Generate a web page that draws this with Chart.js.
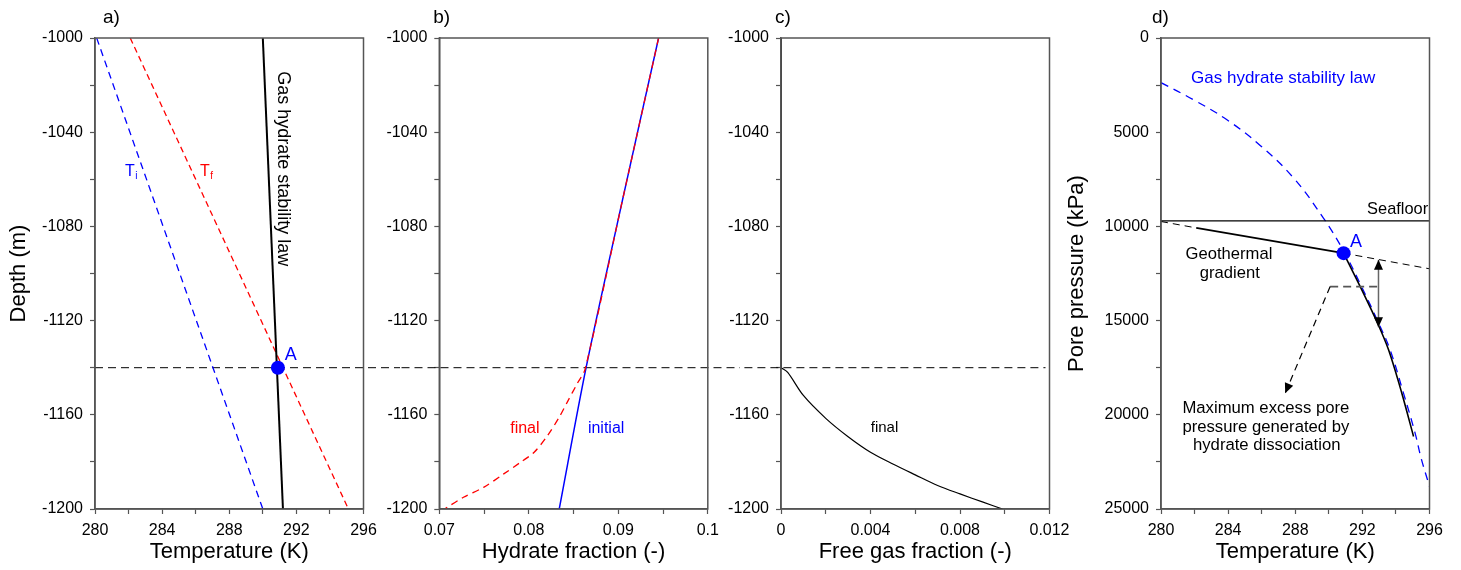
<!DOCTYPE html>
<html>
<head>
<meta charset="utf-8">
<script src="https://cdn.jsdelivr.net/npm/chart.js@4.4.1/dist/chart.umd.min.js"></script>
<style>
  body { margin:0; background:#fff; width:1461px; height:570px; overflow:hidden; position:relative; }
  canvas { position:absolute; top:0; }
</style>
</head>
<body>
<canvas id="chartA" width="400" height="570" style="left:0px"></canvas>
<canvas id="chartB" width="370" height="570" style="left:370px"></canvas>
<canvas id="chartC" width="370" height="570" style="left:712px"></canvas>
<canvas id="chartD" width="421" height="570" style="left:1040px"></canvas>
<script>
// ---- data ----
// a) temperature (K) vs depth (m)
const tiLine   = [[280.1, -1000], [290.0, -1200]];
const tfLine   = [[282.1, -1000], [295.1, -1200]];
const stabLine = [[290.0, -1000], [291.2, -1200]];
const pointA   = [[290.9, -1140]];
const dissocDepth = -1140;

// b) hydrate fraction vs depth
const hydInitial = [[0.0945, -1000], [0.0904, -1070], [0.0864, -1140], [0.0834, -1200]];
const hydFinal = [[0.0945, -1000], [0.0904, -1070], [0.0863, -1140.5], [0.0854, -1146.8], [0.0843, -1154.6],
  [0.0834, -1161], [0.0821, -1168.8], [0.0806, -1175.9], [0.0791, -1180.1], [0.0772, -1185.1],
  [0.0750, -1190.7], [0.0727, -1195], [0.0707, -1199.7]];

// c) free gas fraction vs depth
const gasAbove = [[0, -1000], [0, -1140]];
const gasFinal = [[0, -1140], [0.0003, -1142], [0.0010, -1151.8], [0.0020, -1161.5], [0.0030, -1169.3],
  [0.0040, -1175.9], [0.0050, -1180.9], [0.0060, -1185.5], [0.0070, -1190], [0.0080, -1193.6],
  [0.0090, -1197], [0.0099, -1200]];

// d) temperature (K) vs pore pressure (kPa)
const stabLaw = [[280, 2370], [281.94, 3280], [283.93, 4340], [285.91, 5700], [287.9, 7430], [289.68, 9560],
  [290.88, 11300], [291.9, 13100], [292.95, 15100], [293.65, 16550], [294.45, 18850], [295.15, 21000],
  [295.5, 22300], [296, 23800]];
const seafloor = [[280, 9710], [296, 9710]];
const geoDashLeft  = [[280, 9740], [282.1, 10080]];
const geoSolid     = [[282.1, 10080], [290.88, 11420]];
const geoDashRight = [[290.88, 11420], [296, 12250]];
const afterDiss = [[290.88, 11420], [291.08, 11775], [291.87, 13192], [292.86, 15050], [293.56, 16553],
  [294.35, 18852], [295.05, 21150]];
const pointAd = [[290.88, 11420]];
const excessArrow = [[292.96, 11775], [292.96, 15349]];
const leaderFlat = [[290.08, 13192], [292.96, 13192]];
const leaderArrow = [[290.08, 13192], [287.4, 18852]];

const FONT = "'Liberation Sans', Arial, Helvetica, sans-serif";
const BLUE = '#0000ff', RED = '#ff0000';

const pts = arr => arr.map(([x, y]) => ({x, y}));

function line(data, color, width, dash, tension) {
  return { data: pts(data), showLine: true, borderColor: color, borderWidth: width,
    borderDash: dash || [], pointRadius: 0, tension: tension || 0, fill: false };
}
function dot(data) {
  return { data: pts(data), showLine: false, pointRadius: 7, pointBackgroundColor: BLUE,
    pointBorderColor: BLUE, pointBorderWidth: 0 };
}

function axis(o) {
  return {
    type: 'linear', min: o.min, max: o.max, reverse: !!o.reverse,
    afterFit: s => { if (s.isHorizontal()) s.height = 61; else s.width = o.width; },
    border: { display: true, color: '#555', width: 1.5 },
    grid: { display: true, drawOnChartArea: false, drawTicks: true, tickLength: 5, tickColor: '#555', tickWidth: 1.2 },
    ticks: { stepSize: o.step, autoSkip: false, maxRotation: 0, color: '#000', padding: 7,
      font: { family: FONT, size: 16 }, callback: o.label },
    title: { display: !!o.title, text: o.title || '', color: '#000', font: { family: FONT, size: 22 },
      padding: o.titlePad || 0 }
  };
}

function drawArrowHead(ctx, x0, y0, x1, y1, color) {
  const ang = Math.atan2(y1 - y0, x1 - x0), L = 10, W = 4.5;
  ctx.save();
  ctx.fillStyle = color;
  ctx.setLineDash([]);
  ctx.beginPath();
  ctx.moveTo(x1, y1);
  ctx.lineTo(x1 - L * Math.cos(ang) + W * Math.sin(ang), y1 - L * Math.sin(ang) - W * Math.cos(ang));
  ctx.lineTo(x1 - L * Math.cos(ang) - W * Math.sin(ang), y1 - L * Math.sin(ang) + W * Math.cos(ang));
  ctx.closePath();
  ctx.fill();
  ctx.restore();
}

function decor(cfg) {
  return {
    id: 'decor',
    beforeDatasetsDraw(chart) {
      const {ctx, chartArea: a, scales: {y}} = chart;
      if (!cfg.ref) return;
      const py = y.getPixelForValue(cfg.ref.value);
      ctx.save();
      ctx.strokeStyle = '#000'; ctx.lineWidth = 1; ctx.setLineDash([8, 5]);
      ctx.beginPath();
      ctx.moveTo(a.left - cfg.ref.left, py);
      ctx.lineTo(a.right + cfg.ref.right, py);
      ctx.stroke();
      ctx.restore();
    },
    afterDatasetsDraw(chart) {
      const {ctx, chartArea: a, scales: {x, y}} = chart;
      ctx.save();
      // frame
      ctx.strokeStyle = '#555'; ctx.lineWidth = 1.5;
      ctx.strokeRect(a.left, a.top, a.right - a.left, a.bottom - a.top);
      // arrows
      (cfg.arrows || []).forEach(ar => {
        const p = ar.pts.map(([vx, vy]) => [x.getPixelForValue(vx), y.getPixelForValue(vy)]);
        ctx.save();
        ctx.strokeStyle = ar.color; ctx.lineWidth = ar.width; ctx.setLineDash(ar.dash || []);
        ctx.beginPath(); ctx.moveTo(p[0][0], p[0][1]); ctx.lineTo(p[1][0], p[1][1]); ctx.stroke();
        ctx.restore();
        if (ar.head) drawArrowHead(ctx, p[0][0], p[0][1], p[1][0], p[1][1], '#000');
        if (ar.head === 'both') drawArrowHead(ctx, p[1][0], p[1][1], p[0][0], p[0][1], '#000');
      });
      // text notes
      (cfg.notes || []).forEach(n => {
        ctx.save();
        ctx.translate(x.getPixelForValue(n.x), y.getPixelForValue(n.y));
        if (n.rotate) ctx.rotate(n.rotate);
        ctx.font = n.size + 'px ' + FONT;
        ctx.fillStyle = n.color;
        ctx.textAlign = n.align || 'center';
        ctx.textBaseline = 'middle';
        ctx.fillText(n.text, 0, 0);
        if (n.sub) {
          const w = ctx.measureText(n.text).width;
          ctx.font = '10px ' + FONT;
          ctx.textAlign = 'left';
          ctx.fillText(n.sub, w + 0.5, 5);
        }
        ctx.restore();
      });
      // panel letter
      ctx.font = '19px ' + FONT;
      ctx.fillStyle = '#000';
      ctx.textAlign = 'left';
      ctx.textBaseline = 'alphabetic';
      ctx.fillText(cfg.letter, a.left + cfg.letterDx, 23);
      ctx.restore();
    }
  };
}

const depthLabel = v => (v % 40 === 0 ? String(v) : '');
const tempLabel = v => (v % 4 === 0 ? String(v) : '');

function makeChart(id, datasets, xAx, yAx, padRight, cfg) {
  return new Chart(document.getElementById(id), {
    type: 'scatter',
    data: { datasets },
    options: {
      responsive: false, animation: false, devicePixelRatio: 1, events: [],
      layout: { padding: { left: 0, right: padRight, top: 38, bottom: 0 } },
      plugins: { legend: { display: false }, tooltip: { enabled: false } },
      scales: { x: axis(xAx), y: axis(yAx) }
    },
    plugins: [decor(cfg)]
  });
}

// a)
makeChart('chartA',
  [dot(pointA), line(stabLine, '#000', 2), line(tfLine, RED, 1.3, [6, 4]), line(tiLine, BLUE, 1.3, [7, 5])],
  { min: 280, max: 296, step: 2, label: tempLabel, title: 'Temperature (K)', titlePad: { top: 0, bottom: 5 } },
  { min: -1200, max: -1000, step: 20, label: depthLabel, title: 'Depth (m)', width: 95, titlePad: { top: 6, bottom: 0 } },
  36.5,
  { letter: 'a)', letterDx: 8, ref: { value: dissocDepth, left: 0, right: 38 },
    notes: [
      { x: 291.19, y: -1055.5, text: 'Gas hydrate stability law', color: '#000', size: 18, rotate: Math.PI / 2 },
      { x: 281.79, y: -1056.6, text: 'T', sub: 'i', color: BLUE, size: 16, align: 'left' },
      { x: 286.25, y: -1056.6, text: 'T', sub: 'f', color: RED, size: 16, align: 'left' },
      { x: 291.31, y: -1134.8, text: 'A', color: BLUE, size: 18, align: 'left' }
    ] });

// b)
makeChart('chartB',
  [line(hydFinal, RED, 1.3, [7, 5], 0.3), line(hydInitial, BLUE, 1.5, null, 0.3)],
  { min: 0.07, max: 0.1, step: 0.005, label: v => { const k = Math.round(v * 1000); return k % 10 === 0 ? String(k / 1000) : ''; },
    title: 'Hydrate fraction (-)', titlePad: { top: 0, bottom: 5 } },
  { min: -1200, max: -1000, step: 20, label: depthLabel, width: 69.3 },
  32.2,
  { letter: 'b)', letterDx: -6, ref: { value: dissocDepth, left: 37.8, right: 36.6 },
    notes: [
      { x: 0.07956, y: -1166, text: 'final', color: RED, size: 16 },
      { x: 0.08864, y: -1166, text: 'initial', color: BLUE, size: 16 }
    ] });

// c)
makeChart('chartC',
  [line(gasAbove, '#000', 1.5), line(gasFinal, '#000', 1.2, null, 0.3)],
  { min: 0, max: 0.012, step: 0.002, label: v => { const k = Math.round(v * 1000); return k % 4 === 0 ? String(k / 1000) : ''; },
    title: 'Free gas fraction (-)', titlePad: { top: 0, bottom: 5 } },
  { min: -1200, max: -1000, step: 20, label: depthLabel, width: 69 },
  32.5,
  { letter: 'c)', letterDx: -6, ref: { value: dissocDepth, left: 36.6, right: -4 },
    notes: [ { x: 0.004626, y: -1165.6, text: 'final', color: '#000', size: 15 } ] });

// d)
makeChart('chartD',
  [dot(pointAd), line(afterDiss, '#000', 1.6, null, 0.3), line(geoSolid, '#000', 1.8), line(geoDashLeft, '#000', 1, [7, 5]),
   line(geoDashRight, '#000', 1, [7, 5]), line(seafloor, '#000', 1.2), line(stabLaw, BLUE, 1.3, [8, 6], 0.4)],
  { min: 280, max: 296, step: 2, label: tempLabel, title: 'Temperature (K)', titlePad: { top: 0, bottom: 5 } },
  { min: 0, max: 25000, step: 2500, reverse: true, label: v => (v % 5000 === 0 ? String(v) : ''),
    title: 'Pore pressure (kPa)', width: 121, titlePad: { top: 24, bottom: 0 } },
  31.5,
  { letter: 'd)', letterDx: -9,
    arrows: [
      { pts: leaderFlat, color: '#555', width: 1.8, dash: [8, 5] },
      { pts: excessArrow, color: '#666', width: 1.5, head: 'both' },
      { pts: leaderArrow, color: '#000', width: 1.2, dash: [7, 5], head: 'end' }
    ],
    notes: [
      { x: 281.79, y: 2124, text: 'Gas hydrate stability law', color: BLUE, size: 17, align: 'left' },
      { x: 295.92, y: 9115, text: 'Seafloor', color: '#000', size: 16.4, align: 'right' },
      { x: 291.27, y: 10804, text: 'A', color: BLUE, size: 18, align: 'left' },
      { x: 284.05, y: 11510, text: 'Geothermal', color: '#000', size: 16.6 },
      { x: 284.1, y: 12492, text: 'gradient', color: '#000', size: 16.6 },
      { x: 286.25, y: 19649, text: 'Maximum excess pore', color: '#000', size: 16.7 },
      { x: 286.25, y: 20657, text: 'pressure generated by', color: '#000', size: 16.7 },
      { x: 286.3, y: 21634, text: 'hydrate dissociation', color: '#000', size: 16.7 }
    ] });
</script>
</body>
</html>
